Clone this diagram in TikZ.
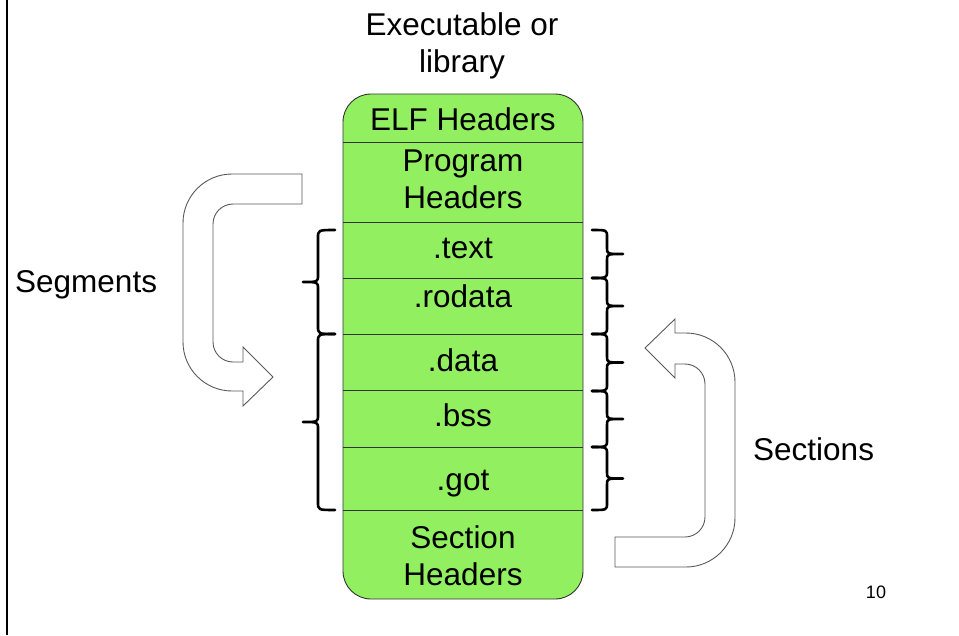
\documentclass[tikz,border=0pt]{standalone}
\usepackage{fontspec}
\setmainfont{Liberation Sans}
\usepackage{tikz}
\definecolor{cellgreen}{RGB}{146,240,96}
\tikzset{
  lbl/.style={inner sep=0pt, font=\fontsize{31.5}{37}\selectfont, align=center},
  blockarr/.style={draw=black!65, fill=white, line width=0.9pt},
  brc/.style={draw=black, line width=2.6pt, line join=round, line cap=round},
  divline/.style={draw=black!80, line width=0.9pt}
}

\begin{document}
\begin{tikzpicture}[x=1pt, y=-1pt]
            \useasboundingbox (0,0) rectangle (959,635);
            \draw [line width=2pt] (7,0) -- (7,635);
            % the file, one cell per part
            \draw [divline, fill=cellgreen, rounded corners=28pt] (343,94) rectangle (583,599);
            \foreach \y in {142,222,278,334,390,447,510}
                \draw [divline] (343,\y) -- (583,\y);
            \node (title) at (462,46) [lbl] {Executable or\\library};
            \node (elf) at (463,130) [lbl, anchor=base] {ELF Headers};
            \node (phdr) at (463,179) [lbl] {Program\\Headers};
            \node (stext) at (463,258) [lbl, anchor=base] {.text};
            \node (srodata) at (463,307) [lbl, anchor=base] {.rodata};
            \node (sdata) at (463,371) [lbl, anchor=base] {.data};
            \node (sbss) at (463,426) [lbl, anchor=base] {.bss};
            \node (sgot) at (463,490) [lbl, anchor=base] {.got};
            \node (shdr) at (463,556) [lbl] {Section\\Headers};
            % braces
            \foreach \ya/\yb in {230/334,334/510} {
                \pgfmathsetmacro\ym{(\ya+\yb)/2}
                \draw [brc] (335,\ya) .. controls (318,\ya) .. (318,\ya+8) -- (318,\ym-7) .. controls (318,\ym) .. (303,\ym)
                    .. controls (318,\ym) .. (318,\ym+7) -- (318,\yb-8) .. controls (318,\yb) .. (335,\yb);
            }
            \foreach \ya/\yb in {230/278,278/334,334/391,391/447,447/510} {
                \pgfmathsetmacro\ym{(\ya+\yb)/2}
                \draw [brc] (592,\ya) .. controls (607,\ya) .. (607,\ya+7) -- (607,\ym-6) .. controls (607,\ym) .. (623,\ym)
                    .. controls (607,\ym) .. (607,\ym+6) -- (607,\yb-7) .. controls (607,\yb) .. (592,\yb);
            }
            % block arrows
            \draw [blockarr] (302,174) -- (232,174) .. controls (205,174) and (183,196) .. (183,223) -- (183,342)
                .. controls (183,369) and (205,391) .. (232,391) -- (243,391) -- (243,406) -- (273,377) -- (243,347)
                -- (243,362) -- (233,362) .. controls (222,362) and (213,353) .. (213,342) -- (213,224)
                .. controls (213,213) and (222,204) .. (233,204) -- (302,204) -- cycle;
            \draw [blockarr] (615,567) -- (686,567) .. controls (713,567) and (735,545) .. (735,518) -- (735,382)
                .. controls (735,355) and (713,333) .. (686,333) -- (675,333) -- (675,319) -- (645,348) -- (675,378)
                -- (675,364) -- (685,364) .. controls (696,364) and (705,373) .. (705,384) -- (705,517)
                .. controls (705,528) and (696,537) .. (685,537) -- (615,537) -- cycle;
            \node (segments) at (15,292) [lbl, anchor=base west] {Segments};
            \node (sections) at (753,460) [lbl, anchor=base west] {Sections};
            \node (pagenum) at (876,598) [lbl, anchor=base, font=\fontsize{18}{20}\selectfont] {10};
        \end{tikzpicture}
\end{document}
